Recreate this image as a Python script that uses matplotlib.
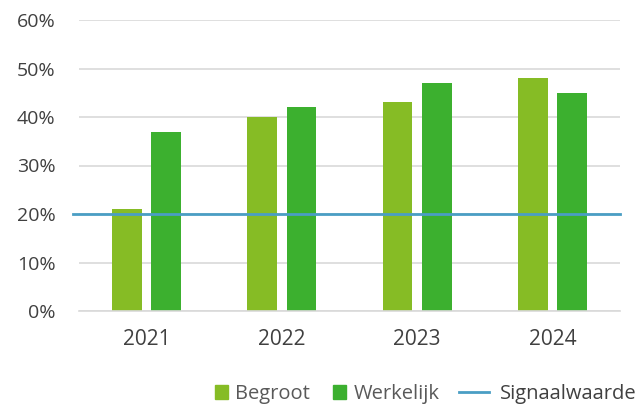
import numpy as np
import matplotlib as mpl
from matplotlib import pyplot as plt
from matplotlib.patches import Patch
from matplotlib.lines import Line2D

years = ["2021", "2022", "2023", "2024"]
begroot = [21, 40, 43, 48]
werkelijk = [37, 42, 47, 45]
signaalwaarde = 20

c_begroot = "#86bc25"
c_werkelijk = "#3cb02f"
c_signaal = "#4a9ec4"
c_text = "#404040"

plt.rcParams["font.family"] = ["Open Sans", "DejaVu Sans"]

fig = plt.figure(figsize=(6.43, 4.04), dpi=100)
ax = fig.add_axes([79 / 643, 1 - 311 / 404, 541 / 643, 291 / 404])

x = np.arange(len(years))
w = 0.22
off = 0.145
ax.bar(x - off, begroot, w, color=c_begroot, zorder=2)
ax.bar(x + off, werkelijk, w, color=c_werkelijk, zorder=2)
ax.axhline(signaalwaarde, xmin=-0.011, xmax=1.0, color=c_signaal, lw=2, zorder=3,
           clip_on=False)

ax.set_xlim(-0.5, 3.5)
ax.set_ylim(0, 60)
ax.set_yticks(range(0, 61, 10))
ax.set_yticklabels([f"{v}%" for v in range(0, 61, 10)])
ax.set_xticks(x)
ax.set_xticklabels(years)
ax.grid(axis="y", color="#d9d9d9", lw=1.2, zorder=0)
for s in ["top", "right", "left"]:
    ax.spines[s].set_visible(False)
ax.spines["bottom"].set_color("#d9d9d9")
ax.spines["bottom"].set_linewidth(1.2)
ax.tick_params(axis="y", length=0, pad=17, labelsize=14, labelcolor=c_text)
ax.tick_params(axis="x", length=0, pad=13, labelsize=15, labelcolor=c_text)

# two legends: squares for bars, a longer line for the signal value
leg_y = 1 - 394 / 404
bar_handles = [Patch(color=c_begroot, label="Begroot"),
               Patch(color=c_werkelijk, label="Werkelijk")]
fig.legend(handles=bar_handles, loc="center left",
           bbox_to_anchor=(215 / 643, leg_y), ncol=2,
           frameon=False, fontsize=14.5, labelcolor="#595959",
           borderpad=0, borderaxespad=0,
           handlelength=0.65, handleheight=0.65, handletextpad=0.35,
           columnspacing=1.15)
line_handles = [Line2D([], [], color=c_signaal, lw=2, label="Signaalwaarde")]
fig.legend(handles=line_handles, loc="center left",
           bbox_to_anchor=(459 / 643, leg_y), frameon=False,
           fontsize=14.5, labelcolor=c_text, borderpad=0, borderaxespad=0,
           handlelength=1.5, handletextpad=0.55)

fig.savefig("out.png", dpi=100)
